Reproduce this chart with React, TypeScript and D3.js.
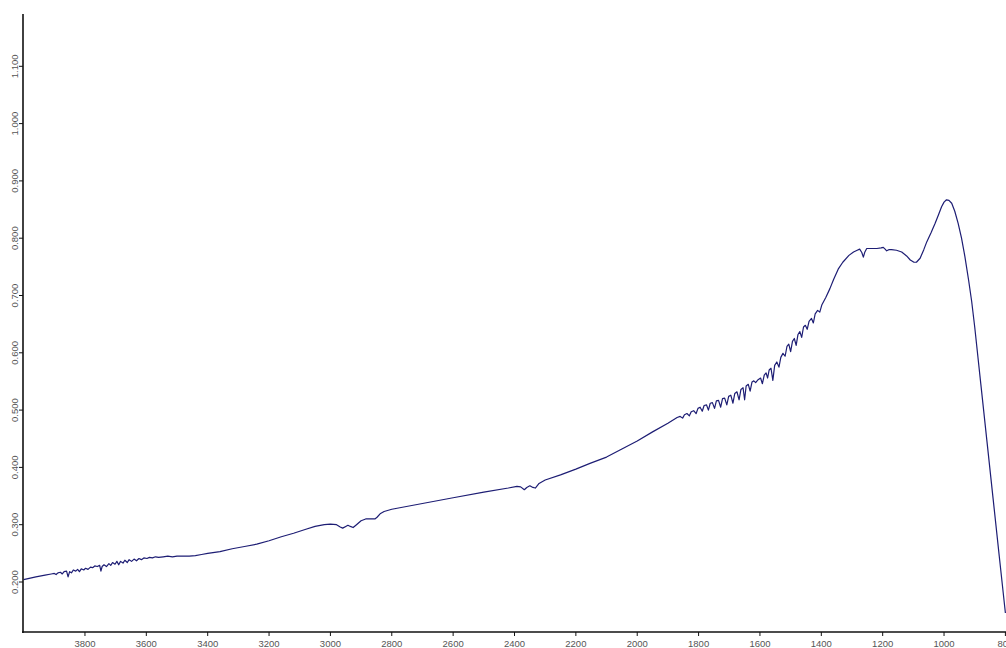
import React from "react";
import * as d3 from "d3";

// Wavenumber (cm-1) and absorbance pairs of the spectrum, high to low wavenumber
const wavenumbers: number[] = [
  4000, 3960, 3930, 3910, 3900, 3894, 3888, 3880, 3874, 3868, 3860, 3855, 3850, 3844, 3838, 3830,
  3824, 3818, 3812, 3804, 3798, 3790, 3782, 3775, 3768, 3760, 3752, 3748, 3744, 3738, 3730, 3722,
  3716, 3710, 3702, 3696, 3690, 3684, 3676, 3670, 3662, 3656, 3648, 3640, 3632, 3624, 3616, 3608,
  3598, 3590, 3580, 3570, 3560, 3545, 3530, 3515, 3500, 3480, 3460, 3440, 3420, 3400, 3360, 3320,
  3280, 3240, 3200, 3160, 3120, 3080, 3050, 3020, 3000, 2980, 2968, 2960, 2950, 2943, 2935, 2926,
  2915, 2900, 2885, 2865, 2855, 2848, 2838, 2825, 2800, 2700, 2600, 2500, 2420, 2392, 2380, 2368,
  2360, 2350, 2340, 2332, 2320, 2300, 2250, 2200, 2154, 2100, 2050, 2000, 1950, 1900, 1870, 1860,
  1852, 1846, 1838, 1830, 1824, 1816, 1808, 1802, 1795, 1788, 1782, 1774, 1768, 1762, 1755, 1748,
  1742, 1735, 1728, 1722, 1715, 1708, 1702, 1695, 1688, 1682, 1675, 1668, 1662, 1655, 1650, 1645,
  1638, 1632, 1626, 1620, 1614, 1606, 1598, 1592, 1586, 1580, 1575, 1570, 1564, 1558, 1552, 1545,
  1538, 1532, 1525, 1518, 1512, 1506, 1500, 1494, 1488, 1482, 1476, 1470, 1464, 1458, 1452, 1446,
  1440, 1432, 1426, 1420, 1412, 1405, 1398, 1385, 1372, 1360, 1345, 1330, 1310, 1295, 1283, 1275,
  1268, 1263, 1258, 1252, 1235, 1219, 1205, 1198, 1192, 1187, 1180, 1171, 1155, 1138, 1122, 1110,
  1098, 1090, 1078, 1066, 1056, 1042, 1029, 1018, 1008, 1000, 992, 984, 975, 965, 954, 943,
  932, 920, 910, 900, 880, 860, 840, 820, 800,
];

const absorbance: number[] = [
  0.204, 0.209, 0.212, 0.214, 0.215, 0.213, 0.216, 0.217, 0.214, 0.218, 0.219, 0.209, 0.218, 0.216, 0.221, 0.219,
  0.222, 0.218, 0.223, 0.221, 0.224, 0.222, 0.226, 0.225, 0.228, 0.227, 0.229, 0.219, 0.227, 0.230, 0.227, 0.232,
  0.229, 0.234, 0.231, 0.236, 0.230, 0.236, 0.233, 0.238, 0.234, 0.239, 0.236, 0.240, 0.237, 0.241, 0.239, 0.242,
  0.241, 0.243, 0.242, 0.244, 0.243, 0.244, 0.245, 0.244, 0.245, 0.245, 0.245, 0.246, 0.248, 0.250, 0.253, 0.258,
  0.262, 0.266, 0.272, 0.279, 0.285, 0.292, 0.297, 0.300, 0.301, 0.300, 0.296, 0.294, 0.297, 0.299, 0.297, 0.295,
  0.300, 0.307, 0.310, 0.310, 0.310, 0.313, 0.319, 0.323, 0.327, 0.337, 0.347, 0.357, 0.364, 0.367, 0.366, 0.361,
  0.365, 0.368, 0.365, 0.364, 0.372, 0.378, 0.387, 0.397, 0.407, 0.418, 0.432, 0.446, 0.462, 0.477, 0.487, 0.489,
  0.486, 0.492, 0.494, 0.490, 0.497, 0.499, 0.494, 0.503, 0.505, 0.498, 0.508, 0.509, 0.500, 0.512, 0.513, 0.503,
  0.516, 0.517, 0.505, 0.520, 0.521, 0.509, 0.524, 0.526, 0.512, 0.529, 0.532, 0.518, 0.536, 0.539, 0.518, 0.542,
  0.545, 0.533, 0.549, 0.551, 0.548, 0.553, 0.556, 0.546, 0.561, 0.565, 0.556, 0.570, 0.573, 0.552, 0.578, 0.584,
  0.575, 0.592, 0.599, 0.594, 0.611, 0.615, 0.602, 0.620, 0.625, 0.613, 0.632, 0.637, 0.627, 0.645, 0.648, 0.641,
  0.655, 0.660, 0.652, 0.668, 0.674, 0.671, 0.684, 0.697, 0.712, 0.728, 0.746, 0.758, 0.770, 0.776, 0.779, 0.781,
  0.775, 0.767, 0.776, 0.782, 0.782, 0.782, 0.783, 0.784, 0.781, 0.778, 0.780, 0.780, 0.779, 0.776, 0.769, 0.762,
  0.758, 0.758, 0.765, 0.780, 0.794, 0.810, 0.826, 0.841, 0.855, 0.863, 0.867, 0.866, 0.861, 0.847, 0.826, 0.800,
  0.768, 0.727, 0.690, 0.645, 0.545, 0.445, 0.345, 0.245, 0.146,
];

const xTickValues: number[] = [3800, 3600, 3400, 3200, 3000, 2800, 2600, 2400, 2200, 2000, 1800, 1600, 1400, 1200, 1000, 800];
const yTickValues: number[] = [0.2, 0.3, 0.4, 0.5, 0.6, 0.7, 0.8, 0.9, 1.0, 1.1];

const WIDTH = 1006;
const HEIGHT = 648;
const AXIS_LEFT = 23;
const AXIS_TOP = 14;
const AXIS_BOTTOM = 632;

export default function App() {
  const x = d3.scaleLinear().domain([4000, 800]).range([23.6, 1005.4]);
  const y = d3.scaleLinear().domain([0.2, 1.1]).range([582, 66.3]);

  const points: [number, number][] = wavenumbers.map((w, i) => [w, absorbance[i]]);
  const line = d3
    .line<[number, number]>()
    .x((d) => x(d[0]))
    .y((d) => y(d[1]));

  const fmt = d3.format(".3f");
  const labelColor = "#555";

  return (
    <svg
      width={WIDTH}
      height={HEIGHT}
      style={{ position: "absolute", left: 0, top: 0, background: "#fff" }}
      fontFamily="Arial, 'Liberation Sans', sans-serif"
    >
      <rect x={0} y={0} width={WIDTH} height={HEIGHT} fill="#fff" />

      {/* spectrum trace */}
      <path d={line(points) ?? ""} fill="none" stroke="#1d1d74" strokeWidth={1.2} strokeLinejoin="round" />

      {/* y axis */}
      <line x1={AXIS_LEFT} y1={AXIS_TOP} x2={AXIS_LEFT} y2={AXIS_BOTTOM + 1} stroke="#111" strokeWidth={1.6} />
      {yTickValues.map((v) => (
        <g key={v} transform={`translate(${AXIS_LEFT},${y(v)})`}>
          <line x1={-4} x2={0} y1={0} y2={0} stroke="#111" strokeWidth={1} />
          <text
            transform="translate(-5.5,0) rotate(-90)"
            textAnchor="middle"
            fontSize={9.5}
            fill={labelColor}
          >
            {fmt(v)}
          </text>
        </g>
      ))}

      {/* x axis */}
      <line x1={AXIS_LEFT - 1} y1={AXIS_BOTTOM} x2={WIDTH} y2={AXIS_BOTTOM} stroke="#111" strokeWidth={1.6} />
      {xTickValues.map((w) => (
        <g key={w} transform={`translate(${x(w)},${AXIS_BOTTOM})`}>
          <line x1={0} x2={0} y1={0} y2={4} stroke="#111" strokeWidth={1} />
          <text y={15} textAnchor="middle" fontSize={9.5} fill={labelColor}>
            {w}
          </text>
        </g>
      ))}
    </svg>
  );
}
